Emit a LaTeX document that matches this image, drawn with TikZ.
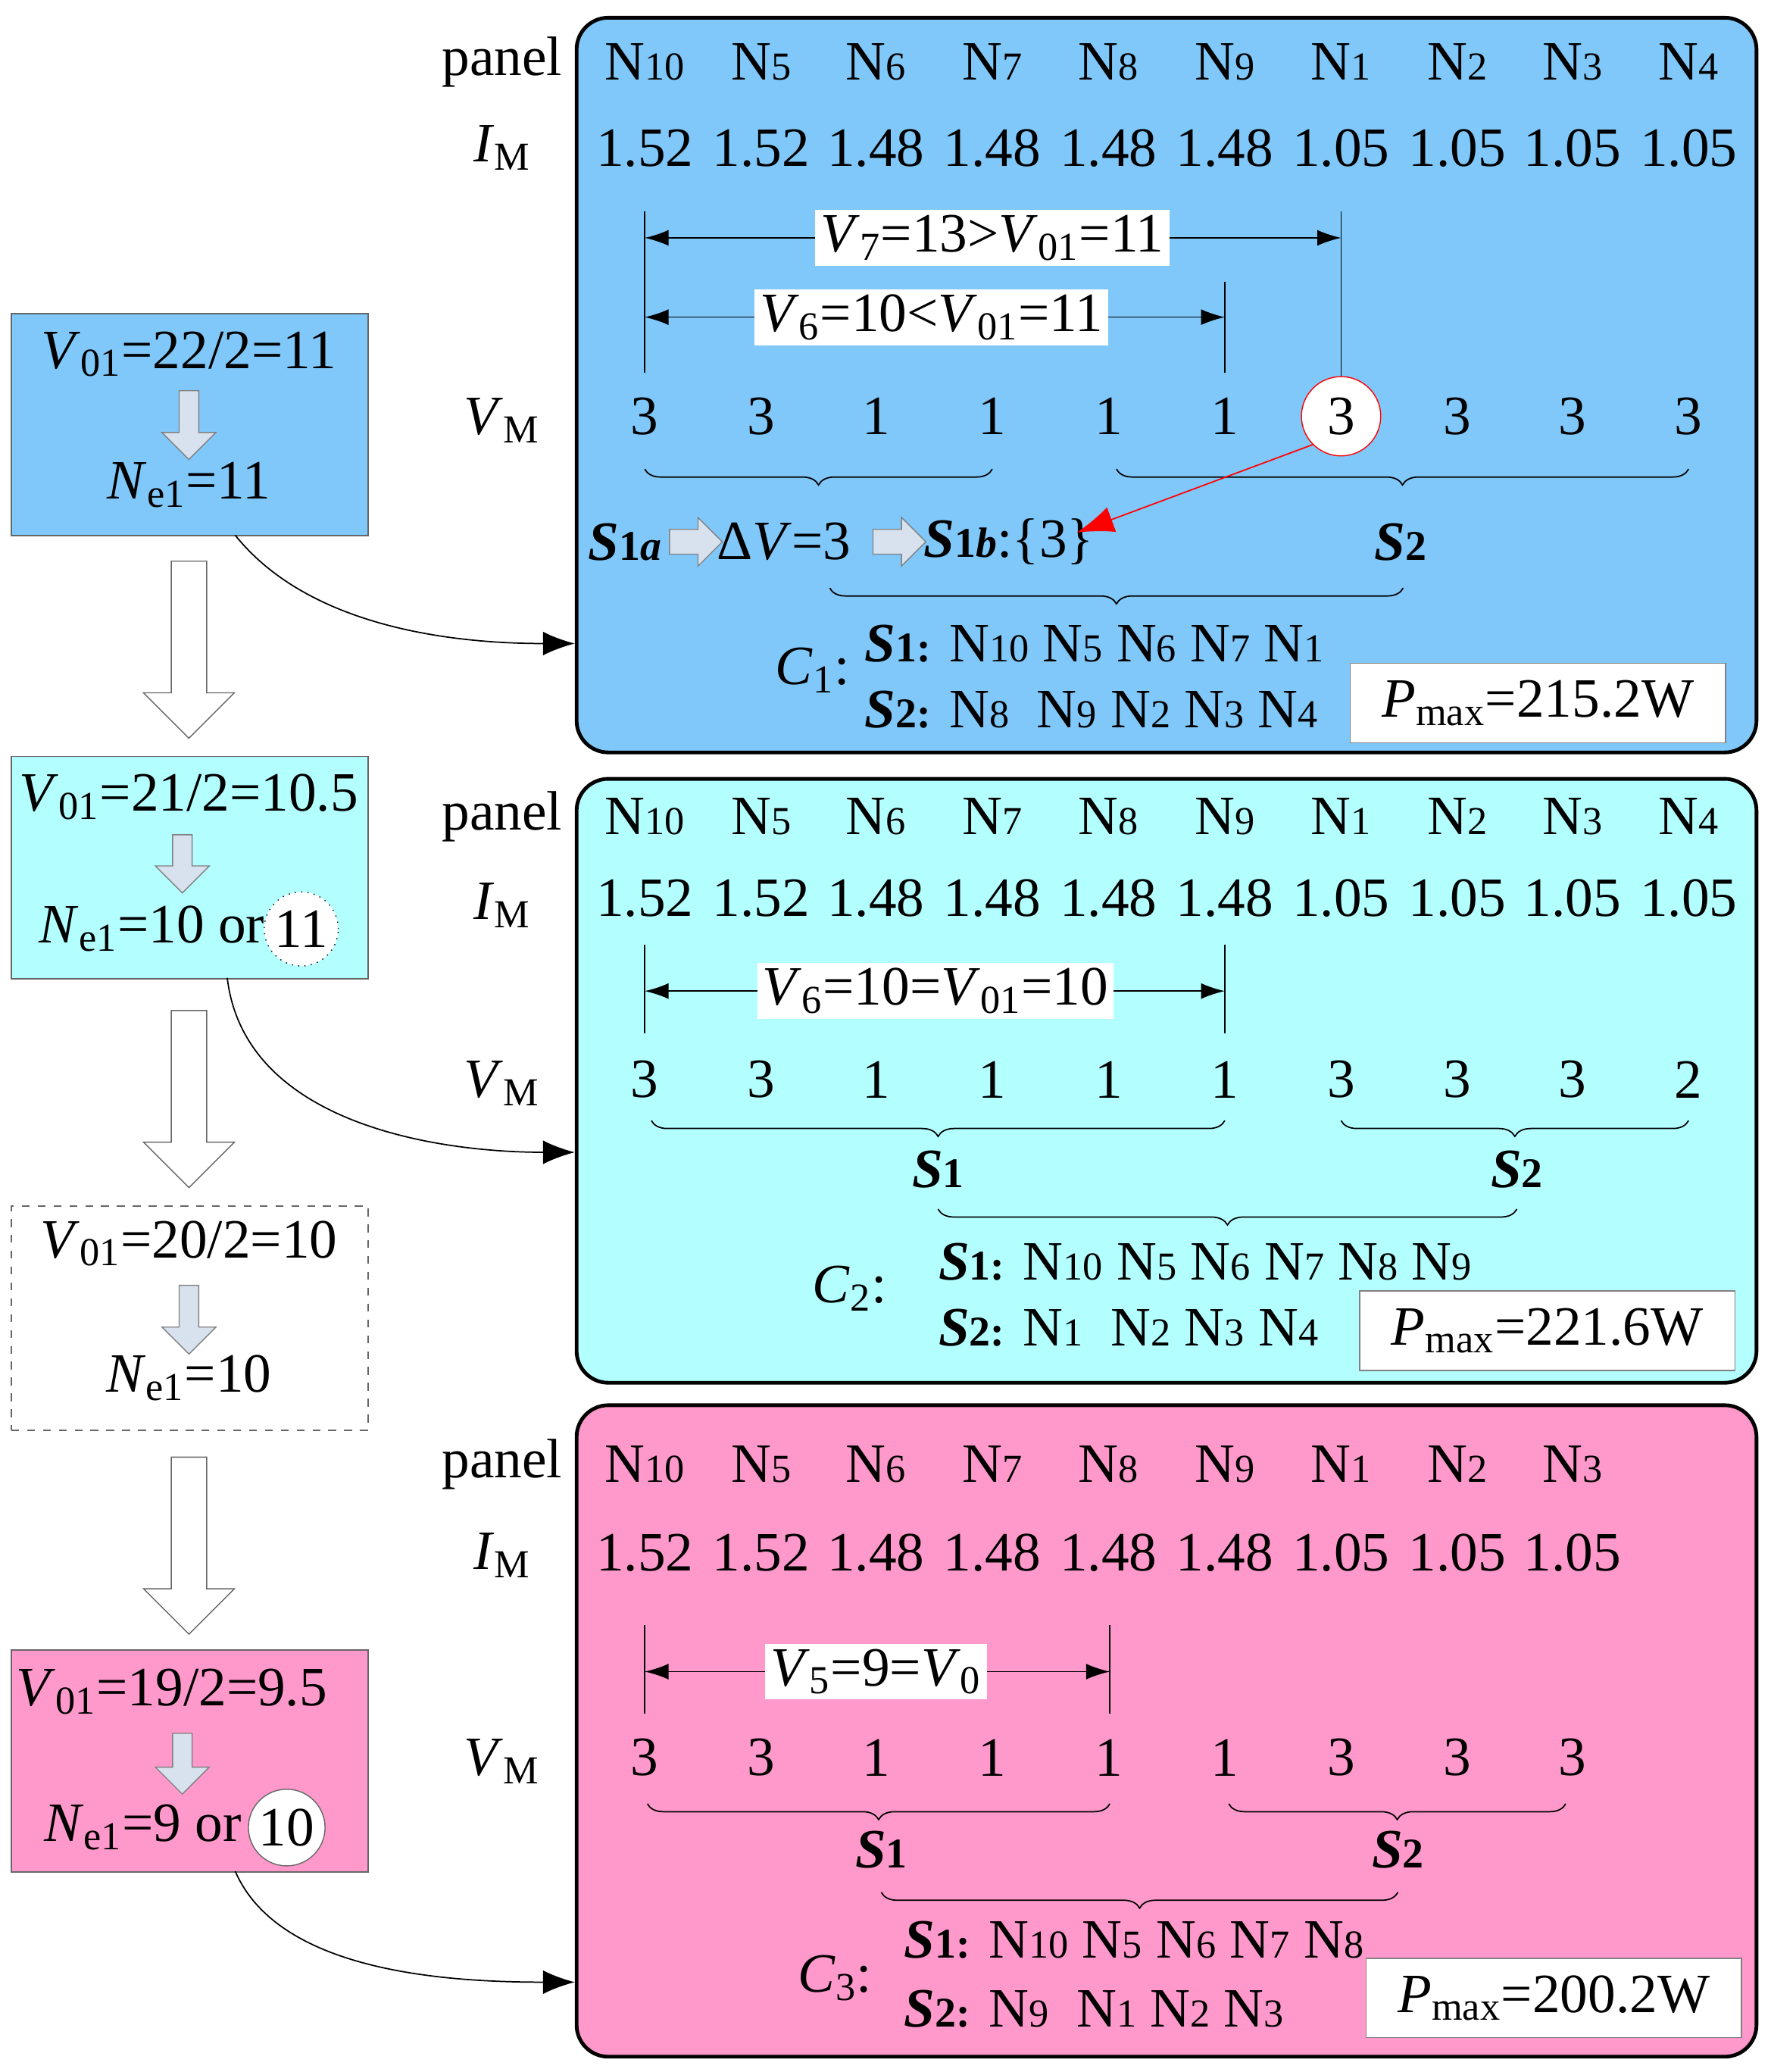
\documentclass[tikz,border=0pt]{standalone}
\usepackage{fontspec}
\setmainfont{Liberation Serif}
\usetikzlibrary{shapes.arrows,decorations.pathreplacing,arrows.meta}
\definecolor{cblue}{HTML}{80C8FA}
\definecolor{ccyan}{HTML}{B3FFFF}
\definecolor{cpink}{HTML}{FF99CC}
\definecolor{agray}{HTML}{D8E2EE}
\newcommand{\Nx}[1]{N{\fontsize{15}{15}\selectfont #1}}
\newcommand{\sbs}[1]{\textsubscript{\fontsize{15}{15}\selectfont #1}}
\newcommand{\Sb}[1]{\textbf{\textit{S}}{\fontsize{16}{16}\selectfont\textbf{#1}}}
\begin{document}
\begin{tikzpicture}[x=0.5pt,y=-0.5pt,
  every node/.style={font=\fontsize{21}{25}\selectfont, inner sep=1pt},
  rbox/.style={draw=black, line width=1.4pt, rounded corners=12pt},
  lbox/.style={draw=black!60, line width=0.5pt},
  big/.style={single arrow, shape border rotate=270, draw=black!60, fill=white, inner sep=6.5pt, single arrow head extend=10.5pt, minimum height=67pt},
  small/.style={single arrow, shape border rotate=270, draw=black!50, fill=agray, inner sep=3.5pt, single arrow head extend=6.5pt, minimum height=26pt},
  hsmall/.style={single arrow, draw=black!50, fill=agray, inner sep=4.5pt, single arrow head extend=4.5pt, minimum height=20pt},
  lbl/.style={fill=white, inner sep=2pt},
  dim/.style={line width=0.5pt, {Latex[length=9pt,width=6pt]}-{Latex[length=9pt,width=6pt]}},
  vl/.style={line width=0.5pt},
  brc/.style={decorate, decoration={brace, mirror, amplitude=6pt}, line width=0.5pt},
  conn/.style={line width=0.5pt, -{Latex[length=12pt,width=9pt]}},
  pm/.style={draw=black!50, fill=white, minimum width=142pt, minimum height=30pt}]
\useasboundingbox (0,0) rectangle (1340,1568);
% right boxes
\node[rbox, fill=cblue, minimum width=446.5pt, minimum height=278pt, anchor=north west] (B1) at (435,12) {};
\node[rbox, fill=ccyan, minimum width=446.5pt, minimum height=228.5pt, anchor=north west] (B2) at (435,588) {};
\node[rbox, fill=cpink, minimum width=446.5pt, minimum height=246.5pt, anchor=north west] (B3) at (435,1062) {};
% left boxes
\node[lbox, fill=cblue, minimum width=135pt, minimum height=84pt, anchor=north west] (L1) at (8,237) {};
\node[lbox, fill=ccyan, minimum width=135pt, minimum height=84pt, anchor=north west] (L2) at (8,572) {};
\node[lbox, dashed, fill=white, minimum width=135pt, minimum height=85pt, anchor=north west] (L3) at (8,912) {};
\node[lbox, fill=cpink, minimum width=135pt, minimum height=84pt, anchor=north west] (L4) at (8,1248) {};
% left texts
\node (t1a) at (143,268) {\textit{V}\sbs{01}=22/2=11};
\node[small] (a1) at (143,318) {};
\node (t1b) at (143,367) {\textit{N}\sbs{e1}=11};
\node (t2a) at (143,603) {\textit{V}\sbs{01}=21/2=10.5};
\node[small, minimum height=22pt] (a2) at (138,650) {};
\node (t2b) at (115,703) {\textit{N}\sbs{e1}=10 or};
\node[circle, draw=black, dotted, fill=white, minimum size=28pt] (c2) at (228,703) {11};
\node (t3a) at (143,941) {\textit{V}\sbs{01}=20/2=10};
\node[small] (a3) at (143,995) {};
\node (t3b) at (143,1043) {\textit{N}\sbs{e1}=10};
\node (t4a) at (130,1280) {\textit{V}\sbs{01}=19/2=9.5};
\node[small, minimum height=23pt] (a4) at (138,1331) {};
\node (t4b) at (108,1383) {\textit{N}\sbs{e1}=9 or};
\node[circle, draw=black!60, fill=white, minimum size=29pt] (c4) at (217,1383) {10};
% big arrows
\node[big] (g1) at (143,485) {};
\node[big] (g2) at (143,825) {};
\node[big] (g3) at (143,1163) {};
% connectors
\coordinate (e1) at (435,487);
\coordinate (e2) at (435,872);
\coordinate (e3) at (435,1500);
\coordinate (s1) at (178,405);
\coordinate (s2) at (172,740);
\coordinate (s3) at (178,1416);
\draw[conn] (s1) .. controls (230,470) and (330,487) .. (e1);
\draw[conn] (s2) .. controls (185,850) and (330,872) .. (e2);
\draw[conn] (s3) .. controls (210,1490) and (330,1500) .. (e3);
% row labels
\foreach \y/\n in {47/p1,618/p2,1108/p3} \node (\n) at (380,\y) {panel};
\foreach \y/\n in {112/i1,685/i2,1177/i3} \node (\n) at (380,\y) {\textit{I}\sbs{M}};
\foreach \y/\n in {318/v1,820/v2,1333/v3} \node (\n) at (380,\y) {\textit{V}\sbs{M}};
% panel names
\foreach \x/\t [count=\i] in {488/10,576/5,663/6,751/7,839/8,927/9,1015/1,1103/2,1190/3,1278/4}{
  \node (na\i) at (\x,47) {\Nx{\t}};
  \node (nb\i) at (\x,618) {\Nx{\t}};
}
\foreach \x/\t [count=\i] in {488/10,576/5,663/6,751/7,839/8,927/9,1015/1,1103/2,1190/3}
  \node (nc\i) at (\x,1108) {\Nx{\t}};
\foreach \x/\t [count=\i] in {488/1.52,576/1.52,663/1.48,751/1.48,839/1.48,927/1.48,1015/1.05,1103/1.05,1190/1.05,1278/1.05}{
  \node (ia\i) at (\x,112) {\t};
  \node (ib\i) at (\x,680) {\t};
}
\foreach \x/\t [count=\i] in {488/1.52,576/1.52,663/1.48,751/1.48,839/1.48,927/1.48,1015/1.05,1103/1.05,1190/1.05}
  \node (ic\i) at (\x,1175) {\t};
% VM box1
\foreach \x/\t [count=\i] in {488/3,576/3,663/1,751/1,839/1,927/1,1103/3,1190/3,1278/3}
  \node (va\i) at (\x,315) {\t};
\node[circle, draw=red, fill=white, minimum size=30pt] (vr) at (1015,315) {3};
\foreach \x/\t [count=\i] in {488/3,576/3,663/1,751/1,839/1,927/1,1015/3,1103/3,1190/3,1278/2}
  \node (vb\i) at (\x,817) {\t};
\foreach \x/\t [count=\i] in {488/3,576/3,663/1,751/1,839/1,927/1,1015/3,1103/3,1190/3}
  \node (vc\i) at (\x,1330) {\t};
% box1 dims
\coordinate (d1a) at (488,160); \coordinate (d1b) at (488,282);
\coordinate (d2a) at (927,213); \coordinate (d2b) at (927,282);
\coordinate (d3a) at (1015,160);
\draw[vl] (d1a) -- (d1b);
\draw[vl] (d2a) -- (d2b);
\draw[vl] (d3a) -- (vr.north);
\coordinate (h1a) at (488,180); \coordinate (h1b) at (1015,180);
\coordinate (h2a) at (488,240); \coordinate (h2b) at (927,240);
\draw[dim] (h1a) -- (h1b);
\draw[dim] (h2a) -- (h2b);
\node[lbl] (lv7) at (751,180) {\textit{V}\sbs{7}=13>\textit{V}\sbs{01}=11};
\node[lbl] (lv6) at (705,240) {\textit{V}\sbs{6}=10<\textit{V}\sbs{01}=11};
\coordinate (b1a) at (488,355); \coordinate (b1b) at (751,355);
\coordinate (b2a) at (845,355); \coordinate (b2b) at (1278,355);
\draw[brc] (b1a) -- (b1b);
\draw[brc] (b2a) -- (b2b);
\node[anchor=west] (s1a) at (443,410) {\textbf{\textit{S}}{\fontsize{16}{16}\selectfont\textbf{1}\textbf{\textit{a}}}};
\node[hsmall] (ha1) at (522,410) {};
\node[anchor=west] (dv) at (540,410) {Δ\textit{V}=3};
\node[hsmall] (ha2) at (676,410) {};
\node[anchor=west] (s1b) at (697,410) {\textbf{\textit{S}}{\fontsize{16}{16}\selectfont\textbf{1}\textbf{\textit{b}}}:\{3\}};
\node (s2l) at (1060,410) {\Sb{2}};
\coordinate (rtip) at (815,403);
\draw[red, line width=0.5pt, -{Latex[length=14pt,width=10pt]}] (vr.south west) -- (rtip);
\coordinate (b3a) at (628,445); \coordinate (b3b) at (1062,445);
\draw[brc] (b3a) -- (b3b);
\node (C1) at (615,507) {\textit{C}\sbs{1}:};
\node[anchor=west] (C1a) at (652,487) {\Sb{1:} \Nx{10} \Nx{5} \Nx{6} \Nx{7} \Nx{1}};
\node[anchor=west] (C1b) at (652,537) {\Sb{2:} \Nx{8}\ \ \Nx{9} \Nx{2} \Nx{3} \Nx{4}};
\node[pm] (P1) at (1164,532) {\textit{P}\sbs{max}=215.2W};
% box2
\coordinate (e1a) at (488,715); \coordinate (e1b) at (488,782);
\coordinate (e2a) at (927,715); \coordinate (e2b) at (927,782);
\draw[vl] (e1a) -- (e1b);
\draw[vl] (e2a) -- (e2b);
\coordinate (k1a) at (488,750); \coordinate (k1b) at (927,750);
\draw[dim] (k1a) -- (k1b);
\node[lbl] (lv62) at (708,750) {\textit{V}\sbs{6}=10=\textit{V}\sbs{01}=10};
\coordinate (f1a) at (493,848); \coordinate (f1b) at (927,848);
\coordinate (f2a) at (1015,848); \coordinate (f2b) at (1278,848);
\draw[brc] (f1a) -- (f1b);
\draw[brc] (f2a) -- (f2b);
\node (S12) at (710,885) {\Sb{1}};
\node (S22) at (1148,885) {\Sb{2}};
\coordinate (f3a) at (710,915); \coordinate (f3b) at (1148,915);
\draw[brc] (f3a) -- (f3b);
\node (C2) at (643,975) {\textit{C}\sbs{2}:};
\node[anchor=west] (C2a) at (708,955) {\Sb{1:} \Nx{10} \Nx{5} \Nx{6} \Nx{7} \Nx{8} \Nx{9}};
\node[anchor=west] (C2b) at (708,1005) {\Sb{2:} \Nx{1}\ \ \Nx{2} \Nx{3} \Nx{4}};
\node[pm] (P2) at (1171,1007) {\textit{P}\sbs{max}=221.6W};
% box3
\coordinate (m1a) at (488,1230); \coordinate (m1b) at (488,1297);
\coordinate (m2a) at (840,1230); \coordinate (m2b) at (840,1297);
\draw[vl] (m1a) -- (m1b);
\draw[vl] (m2a) -- (m2b);
\coordinate (q1a) at (488,1265); \coordinate (q1b) at (840,1265);
\draw[dim] (q1a) -- (q1b);
\node[lbl] (lv5) at (663,1265) {\textit{V}\sbs{5}=9=\textit{V}\sbs{0}};
\coordinate (r1a) at (490,1365); \coordinate (r1b) at (840,1365);
\coordinate (r2a) at (930,1365); \coordinate (r2b) at (1185,1365);
\draw[brc] (r1a) -- (r1b);
\draw[brc] (r2a) -- (r2b);
\node (S13) at (667,1400) {\Sb{1}};
\node (S23) at (1058,1400) {\Sb{2}};
\coordinate (r3a) at (667,1432); \coordinate (r3b) at (1058,1432);
\draw[brc] (r3a) -- (r3b);
\node (C3) at (632,1497) {\textit{C}\sbs{3}:};
\node[anchor=west] (C3a) at (682,1468) {\Sb{1:} \Nx{10} \Nx{5} \Nx{6} \Nx{7} \Nx{8}};
\node[anchor=west] (C3b) at (682,1520) {\Sb{2:} \Nx{9}\ \ \Nx{1} \Nx{2} \Nx{3}};
\node[pm] (P3) at (1176,1512) {\textit{P}\sbs{max}=200.2W};
\end{tikzpicture}
\end{document}
